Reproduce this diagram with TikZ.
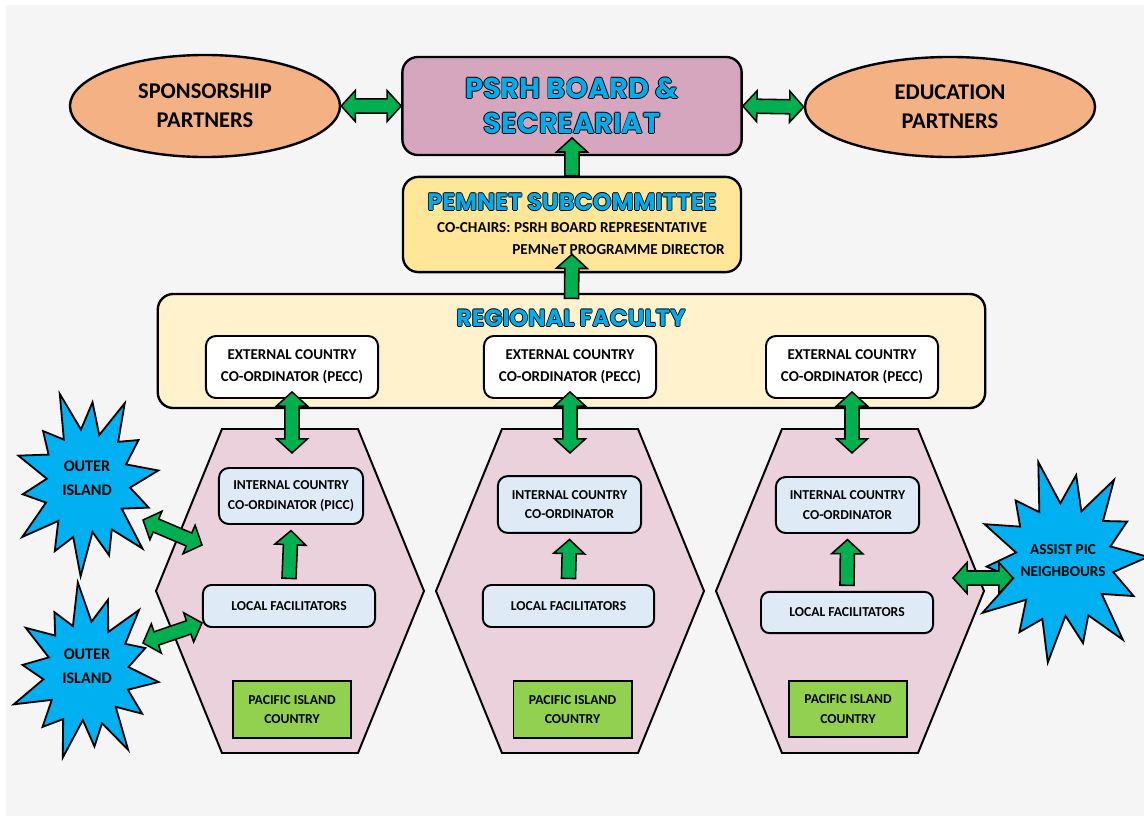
\documentclass[tikz,border=0pt]{standalone}
\usepackage{fontspec}
\setmainfont{Carlito}
\newfontfamily\titlefont{Poppins}
\usetikzlibrary{calc,shapes.geometric}

\definecolor{pagegray}{RGB}{245,245,245}
\definecolor{partnerorange}{RGB}{244,177,131}
\definecolor{boardmauve}{RGB}{213,166,189}
\definecolor{subyellow}{RGB}{255,230,153}
\definecolor{facultycream}{RGB}{255,242,204}
\definecolor{hexpink}{RGB}{234,209,220}
\definecolor{coordblue}{RGB}{222,235,247}
\definecolor{countrygreen}{RGB}{146,208,80}
\definecolor{arrowgreen}{RGB}{0,176,80}
\definecolor{burstblue}{RGB}{0,176,240}
\definecolor{titleblue}{RGB}{0,172,236}

% outlined display lettering
\newcommand{\outlined}[1]{%
  \makebox[0pt][l]{\color{black}\kern-.6pt#1}%
  \makebox[0pt][l]{\color{black}\kern.6pt#1}%
  \makebox[0pt][l]{\color{black}\raisebox{.6pt}{#1}}%
  \makebox[0pt][l]{\color{black}\raisebox{-.6pt}{#1}}%
  {\color{titleblue}#1}}

% block arrows: shaft, head width, head length
\def\asw{5pt}
\def\ahw{11pt}
\def\ahl{10pt}
\newcommand{\twoway}[2]{%
  \path[greenarrow] let \p1=(#1), \p2=(#2),
    \n1={atan2(\y2-\y1,\x2-\x1)}, \n2={veclen(\x2-\x1,\y2-\y1)} in
    [shift={(\p1)}, rotate=\n1]
    (0pt,0pt) -- (\ahl,\ahw) -- (\ahl,\asw) -- (\n2-\ahl,\asw) -- (\n2-\ahl,\ahw)
    -- (\n2,0pt) -- (\n2-\ahl,-\ahw) -- (\n2-\ahl,-\asw) -- (\ahl,-\asw) -- (\ahl,-\ahw) -- cycle;}
\newcommand{\oneway}[2]{%
  \path[greenarrow] let \p1=(#1), \p2=(#2),
    \n1={atan2(\y2-\y1,\x2-\x1)}, \n2={veclen(\x2-\x1,\y2-\y1)} in
    [shift={(\p1)}, rotate=\n1]
    (0pt,\asw) -- (\n2-\ahl,\asw) -- (\n2-\ahl,\ahw) -- (\n2,0pt)
    -- (\n2-\ahl,-\ahw) -- (\n2-\ahl,-\asw) -- (0pt,-\asw) -- cycle;}

% explosion outline, unit radius
\newcommand{\burstshape}{(0:1) \foreach \a/\r in {12.9/0.6, 25.7/0.9, 38.6/0.56,
  51.4/1.06, 64.3/0.62, 77.1/0.86, 90/0.55, 102.9/1.04, 115.7/0.63, 128.6/0.88,
  141.4/0.58, 154.3/1.08, 167.1/0.61, 180/0.9, 192.9/0.56, 205.7/1.0, 218.6/0.62,
  231.4/0.84, 244.3/0.58, 257.1/1.06, 270/0.6, 282.9/0.9, 295.7/0.56, 308.6/1.03,
  321.4/0.63, 334.3/0.86, 347.1/0.58} {-- (\a:\r)} -- cycle}

\tikzset{
  outline/.style={draw=black, line width=1.7pt},
  partner/.style={outline, ellipse, fill=partnerorange, inner sep=0pt, align=center,
    font=\fontsize{16}{20.5}\selectfont\bfseries},
  bigbox/.style={outline, rounded corners=11pt, inner sep=0pt},
  headline/.style={inner sep=0pt, font=\titlefont\bfseries},
  extbox/.style={outline, line width=1.4pt, fill=white, rounded corners=7pt, align=center,
    minimum width=4.3cm, minimum height=1.55cm, inner sep=0pt,
    font=\fontsize{10.7}{15.6}\selectfont\bfseries},
  pinbox/.style={outline, line width=1.4pt, fill=coordblue, rounded corners=7pt, align=center,
    inner sep=0pt, font=\fontsize{9.7}{14}\selectfont\bfseries},
  countrybox/.style={outline, line width=1.4pt, fill=countrygreen, align=center,
    minimum width=2.95cm, minimum height=1.42cm, inner sep=0pt,
    font=\fontsize{9.7}{14}\selectfont\bfseries},
  hexagon/.style={draw=black, line width=1.4pt, fill=hexpink, line join=miter},
  burst/.style={draw=black, line width=1.3pt, fill=burstblue, line join=miter},
  bursttext/.style={align=center, inner sep=0pt, font=\fontsize{11.5}{17}\selectfont\bfseries},
  greenarrow/.style={draw=black, line width=1.1pt, fill=arrowgreen, line join=miter}
}

\begin{document}
\begin{tikzpicture}[x=0.025cm, y=-0.025cm]
\useasboundingbox (0,0) rectangle (1144,816);
\fill[white] (0,0) rectangle (1144,816);
\fill[pagegray] (6,5) rectangle (1144,816);

% country hexagons
\foreach \cx [count=\i] in {290,570,850} {
  \draw[hexagon] (\cx-68,429) -- (\cx+68,429) -- (\cx+134,591) -- (\cx+68,753)
    -- (\cx-68,753) -- (\cx-134,591) -- cycle;
  \coordinate (hex\i) at (\cx,429);
}

% explosions
\begin{scope}[shift={(87,483)}, xscale=72, yscale=90, rotate=8]
  \draw[burst] \burstshape;
\end{scope}
\begin{scope}[shift={(87,673)}, xscale=72, yscale=86, rotate=-6]
  \draw[burst] \burstshape;
\end{scope}
\begin{scope}[shift={(1063,562)}, xscale=85, yscale=98, rotate=3]
  \draw[burst] \burstshape;
\end{scope}
\node[bursttext] (islandA) at (87,478) {OUTER\\ISLAND};
\node[bursttext] (islandB) at (87,666) {OUTER\\ISLAND};
\node[bursttext, font=\fontsize{10.8}{15.6}\selectfont\bfseries] (neighbours) at (1063,561) {ASSIST PIC\\NEIGHBOURS};

% top row
\node[partner, minimum width=6.75cm, minimum height=2.55cm] (sponsors) at (205,106) {SPONSORSHIP\\PARTNERS};
\node[partner, minimum width=7.25cm, minimum height=2.5cm] (educators) at (950,107) {EDUCATION\\PARTNERS};
\node[bigbox, fill=boardmauve, minimum width=8.48cm, minimum height=2.45cm, align=center,
  font=\titlefont\bfseries\fontsize{20.5}{25}\selectfont] (board) at (572,106)
  {\outlined{PSRH BOARD \&}\\\outlined{SECREARIAT}};

% subcommittee
\node[bigbox, fill=subyellow, minimum width=8.45cm, minimum height=2.38cm] (subcomm) at (572,224.5) {};
\node[headline, font=\titlefont\bfseries\fontsize{17}{20}\selectfont] (subtitle) at (572,202) {\outlined{PEMNET SUBCOMMITTEE}};
\node[inner sep=0pt, font=\fontsize{10.8}{12}\selectfont\bfseries] (cochairA) at (572,228) {CO-CHAIRS: PSRH BOARD REPRESENTATIVE};
\node[inner sep=0pt, anchor=east, font=\fontsize{10.8}{12}\selectfont\bfseries] (cochairB) at (725,250) {PEMNeT PROGRAMME DIRECTOR};

% regional faculty
\node[bigbox, fill=facultycream, minimum width=20.68cm, minimum height=2.85cm] (faculty) at (571.5,351) {};
\node[headline, font=\titlefont\bfseries\fontsize{16.8}{18}\selectfont] (facultytitle) at (571,318) {\outlined{REGIONAL FACULTY}};
\foreach \cx [count=\i] in {292,570,852}
  \node[extbox] (ext\i) at (\cx,367) {EXTERNAL COUNTRY\\CO-ORDINATOR (PECC)};

% inside the hexagons
\node[pinbox, minimum width=3.6cm, minimum height=1.4cm] (int1) at (291,496) {INTERNAL COUNTRY\\CO-ORDINATOR (PICC)};
\node[pinbox, minimum width=3.58cm, minimum height=1.42cm] (int2) at (569.5,504.5) {INTERNAL COUNTRY\\CO-ORDINATOR};
\node[pinbox, minimum width=3.58cm, minimum height=1.4cm] (int3) at (847.5,505) {INTERNAL COUNTRY\\CO-ORDINATOR};
\node[pinbox, rounded corners=6pt, minimum width=4.3cm, minimum height=1.05cm] (loc1) at (289,606) {LOCAL FACILITATORS};
\node[pinbox, rounded corners=6pt, minimum width=4.28cm, minimum height=1.05cm] (loc2) at (568.5,606) {LOCAL FACILITATORS};
\node[pinbox, rounded corners=6pt, minimum width=4.3cm, minimum height=1.03cm] (loc3) at (847,612.5) {LOCAL FACILITATORS};
\node[countrybox] (pic1) at (292,709.5) {PACIFIC ISLAND\\COUNTRY};
\node[countrybox] (pic2) at (572.5,709.5) {PACIFIC ISLAND\\COUNTRY};
\node[countrybox] (pic3) at (848,709) {PACIFIC ISLAND\\COUNTRY};

% free ends of the side arrows
\coordinate (islandAtip) at (143,520);
\coordinate (hexAside) at (202,545);
\coordinate (islandBtip) at (143,643);
\coordinate (hexCside) at (953,578);
\coordinate (neighbourstip) at (1013,578);

% arrows
\twoway{sponsors.east}{board.west}
\twoway{board.east}{educators.west}
\oneway{subcomm.north}{[yshift=13pt]board.south}
\oneway{[yshift=-4pt]faculty.north}{[yshift=13.5pt]subcomm.south}
\foreach \i in {1,2,3}
  \twoway{[yshift=5pt]ext\i.south}{[yshift=-17pt]ext\i.south |- hex\i};
\foreach \i in {1,2,3}
  \oneway{[yshift=4pt]loc\i.north}{[yshift=-4pt]int\i.south};
\twoway{islandAtip}{hexAside}
\twoway{islandBtip}{[yshift=-12pt]loc1.west}
\twoway{hexCside}{neighbourstip}
\end{tikzpicture}
\end{document}
